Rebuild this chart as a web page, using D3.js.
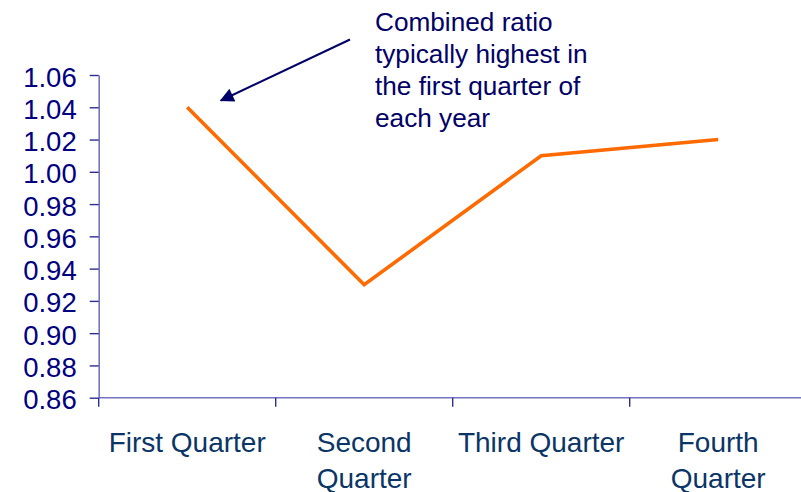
<!DOCTYPE html>
<html>
<head>
<meta charset="utf-8">
<script src="https://cdn.jsdelivr.net/npm/d3@7"></script>
<style>
  html, body { margin: 0; padding: 0; background: #ffffff; }
  svg { display: block; font-family: "Liberation Sans", Arial, sans-serif; }
</style>
</head>
<body>
<svg id="chart" width="801" height="492"></svg>
<script>
// Quarterly combined ratio
const quarters = ["First Quarter", "Second Quarter", "Third Quarter", "Fourth Quarter"];
const ratios = [1.04, 0.93, 1.01, 1.02];
const yTicks = [0.86, 0.88, 0.90, 0.92, 0.94, 0.96, 0.98, 1.00, 1.02, 1.04, 1.06];
const noteLines = ["Combined ratio", "typically highest in", "the first quarter of", "each year"];

const svg = d3.select("#chart");
const plotLeft = 98.7, bandStep = 177, plotTop = 75, plotBottom = 397.7;

const x = d3.scaleBand().domain(quarters).range([plotLeft, plotLeft + bandStep * quarters.length]).padding(0);
const y = d3.scaleLinear().domain([0.86, 1.06]).range([plotBottom, plotTop]);

// y axis
const yAxis = svg.append("g")
  .attr("transform", `translate(${plotLeft},0)`)
  .call(d3.axisLeft(y).tickValues(yTicks).tickFormat(d3.format(".2f")).tickSize(9).tickPadding(13).tickSizeOuter(0));
yAxis.select(".domain").attr("stroke", "#7474c2").attr("stroke-width", 1.6);
yAxis.selectAll(".tick line").attr("stroke", "#2e2e90").attr("stroke-width", 1.4);
yAxis.selectAll(".tick text")
  .attr("fill", "#000080").attr("font-size", "27.5px").attr("dy", "0.4em")
  .attr("font-family", "'Liberation Sans', Arial, sans-serif");

// x axis: ticks at band boundaries
const xAxisG = svg.append("g").attr("transform", `translate(0,${plotBottom})`);
xAxisG.append("line")
  .attr("x1", x.range()[0]).attr("x2", x.range()[1])
  .attr("stroke", "#7474c2").attr("stroke-width", 1.6);
const edges = quarters.map(q => x(q)).concat([x.range()[1]]);
xAxisG.selectAll("line.edge").data(edges).join("line")
  .attr("class", "edge")
  .attr("x1", d => d).attr("x2", d => d).attr("y1", 0).attr("y2", 9)
  .attr("stroke", "#2e2e90").attr("stroke-width", 1.4);

// category labels, wrapped to the band width
const labels = xAxisG.selectAll("text.cat").data(quarters).join("text")
  .attr("class", "cat")
  .attr("x", d => x(d) + x.bandwidth() / 2)
  .attr("y", 54)
  .attr("text-anchor", "middle")
  .attr("fill", "#0a3566")
  .attr("font-size", "28px");
labels.each(function(d) {
  const t = d3.select(this);
  const words = d.split(" ");
  t.text(d);
  if (this.getComputedTextLength() > x.bandwidth()) {
    t.text(null);
    words.forEach((w, i) => {
      t.append("tspan").attr("x", x(d) + x.bandwidth() / 2).attr("dy", i === 0 ? 0 : 36.5).text(w);
    });
  }
});

// line series
const line = d3.line()
  .x((d, i) => x(quarters[i]) + x.bandwidth() / 2)
  .y(d => y(d));
svg.append("path")
  .datum(ratios)
  .attr("fill", "none")
  .attr("stroke", "#ff6a00")
  .attr("stroke-width", 3.6)
  .attr("stroke-linejoin", "miter")
  .attr("d", line);

// annotation arrow
const defs = svg.append("defs");
defs.append("marker")
  .attr("id", "arrowhead")
  .attr("viewBox", "0 0 10 10")
  .attr("refX", 9).attr("refY", 5)
  .attr("markerWidth", 8.5).attr("markerHeight", 7)
  .attr("markerUnits", "strokeWidth")
  .attr("orient", "auto")
  .append("path").attr("d", "M0,0 L10,5 L0,10 Z").attr("fill", "#000066");
svg.append("line")
  .attr("x1", 350).attr("y1", 39.5)
  .attr("x2", 221).attr("y2", 100.5)
  .attr("stroke", "#000066").attr("stroke-width", 2)
  .attr("marker-end", "url(#arrowhead)");

// annotation text
svg.append("text")
  .attr("x", 375).attr("y", 31)
  .attr("fill", "#000066").attr("font-size", "26.2px")
  .selectAll("tspan").data(noteLines).join("tspan")
  .attr("x", 375).attr("dy", (d, i) => i === 0 ? 0 : 32)
  .text(d => d);
</script>
</body>
</html>
